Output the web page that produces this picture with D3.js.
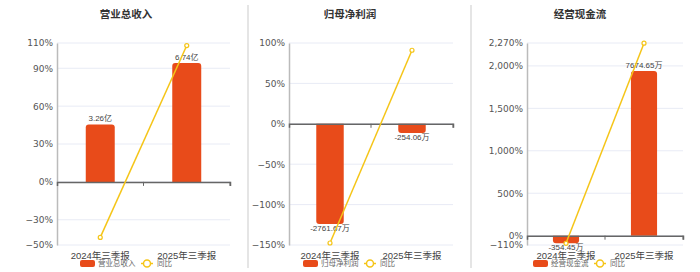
<!DOCTYPE html>
<html>
<head>
<meta charset="utf-8">
<script src="https://cdn.jsdelivr.net/npm/d3@7"></script>
<style>
  body { margin: 0; background: #fff; }
  svg { display: block; font-family: "Liberation Sans", "Noto Sans CJK SC", sans-serif; }
</style>
</head>
<body>
<svg id="chart" width="700" height="272"></svg>
<script>
// Shared categories
const categories = ["2024年三季报", "2025年三季报"];

// Panel titles / series names
const titles = ["营业总收入", "归母净利润", "经营现金流"];

// Bar values (raw) and their labels
const barValues = [
  [3.26, 6.74],
  [-2761.67, -254.06],
  [-354.45, 7674.65],
];
const barLabels = [
  ["3.26亿", "6.74亿"],
  ["-2761.67万", "-254.06万"],
  ["-354.45万", "7674.65万"],
];

// YoY percentages (line)
const yoyValues = [
  [-44, 108],
  [-147.5, 91],
  [-90, 2268],
];

// Left axis ticks (percent)
const tickValues = [
  [-50, -30, 0, 30, 60, 90, 110],
  [-150, -100, -50, 0, 50, 100],
  [-110, 0, 500, 1000, 1500, 2000, 2270],
];

// Layout per panel
const panels = [
  {left: 57, right: 230, titleX: 126, sepX: null, legX: 80},
  {left: 289, right: 453, titleX: 350, sepX: 248, legX: 303},
  {left: 527, right: 683, titleX: 580, sepX: 471, legX: 533},
];

const barColor = "#E84B1A";
const lineColor = "#F5C518";
const plotTop = 43, plotBottom = 245;

const svg = d3.select("#chart");

panels.forEach((p, i) => drawPanel(p, i));

function drawPanel(p, i) {
  const g = svg.append("g");
  const ticks = tickValues[i];
  const y = d3.scaleLinear()
    .domain([d3.min(ticks), d3.max(ticks)])
    .range([plotBottom, plotTop]);
  const x = d3.scaleBand()
    .domain(categories)
    .range([p.left, p.right])
    .paddingInner(0)
    .paddingOuter(0);
  const bw = x.bandwidth() * 0.335;

  // Bar scale: share zero with the percent axis
  const zeroY = y(0);
  const maxAbs = d3.max(barValues[i], d => Math.abs(d));
  const maxPix = i === 0 ? zeroY - 63 : (i === 1 ? 224 - zeroY : zeroY - 71);
  const yb = d3.scaleLinear().domain([0, maxAbs]).range([0, maxPix]);

  // Separator
  if (p.sepX !== null) {
    svg.append("line")
      .attr("x1", p.sepX).attr("x2", p.sepX)
      .attr("y1", 5).attr("y2", 268)
      .attr("stroke", "#dcdcdc").attr("stroke-width", 1.5);
  }

  // Title
  g.append("text")
    .attr("x", p.titleX).attr("y", 18)
    .attr("text-anchor", "middle")
    .attr("font-size", 10.5).attr("font-weight", "bold")
    .attr("fill", "#333")
    .attr("font-family", "'Noto Sans CJK SC', sans-serif")
    .text(titles[i]);

  // Grid
  g.append("g").selectAll("line").data(ticks).join("line")
    .attr("x1", p.left).attr("x2", p.right)
    .attr("y1", d => y(d)).attr("y2", d => y(d))
    .attr("stroke", "#e8ebf5").attr("stroke-width", 1);

  // Left axis
  const yAxis = d3.axisLeft(y)
    .tickValues(ticks)
    .tickSize(0)
    .tickPadding(4)
    .tickFormat(d => d3.format(",")(d) + "%");
  g.append("g")
    .attr("transform", `translate(${p.left},0)`)
    .call(yAxis)
    .call(s => s.select(".domain").attr("stroke", "#bbb").attr("stroke-width", 1.5))
    .call(s => s.selectAll("text").attr("font-size", 9).attr("fill", "#555")
      .attr("font-family", "'DejaVu Sans', sans-serif"));

  // Bars
  g.append("g").selectAll("path").data(barValues[i]).join("path")
    .attr("fill", barColor)
    .attr("d", (d, j) => {
      const cx = x(categories[j]) + x.bandwidth() / 2;
      const h = yb(Math.abs(d));
      return roundedBar(cx - bw / 2, zeroY, bw, h, d >= 0, 3);
    });

  // Bar labels
  g.append("g").selectAll("text").data(barValues[i]).join("text")
    .attr("x", (d, j) => x(categories[j]) + x.bandwidth() / 2)
    .attr("y", d => d >= 0 ? zeroY - yb(d) - 3.5 : zeroY + yb(-d) + 6.5)
    .attr("text-anchor", "middle")
    .attr("font-size", 8).attr("fill", "#444")
    .text((d, j) => barLabels[i][j]);

  // X axis at zero
  const xAxis = d3.axisBottom(x).tickSize(4).tickFormat("");
  g.append("g")
    .attr("transform", `translate(0,${zeroY})`)
    .call(xAxis)
    .call(s => s.select(".domain").attr("stroke", "#666").attr("stroke-width", 1.5))
    .call(s => s.selectAll(".tick line").attr("stroke", "#666")
      .attr("transform", `translate(${x.bandwidth() / 2},0)`));

  // Category labels at bottom
  g.append("g").selectAll("text").data(categories).join("text")
    .attr("x", d => x(d) + x.bandwidth() / 2)
    .attr("y", 258.5)
    .attr("text-anchor", "middle")
    .attr("font-size", 9.5).attr("fill", "#444")
    .text(d => d);

  // YoY line
  const line = d3.line()
    .x((d, j) => x(categories[j]) + x.bandwidth() / 2)
    .y(d => y(d));
  g.append("path")
    .datum(yoyValues[i])
    .attr("fill", "none")
    .attr("stroke", lineColor)
    .attr("stroke-width", 1.5)
    .attr("d", line);
  g.append("g").selectAll("circle").data(yoyValues[i]).join("circle")
    .attr("cx", (d, j) => x(categories[j]) + x.bandwidth() / 2)
    .attr("cy", d => y(d))
    .attr("r", 2)
    .attr("fill", "#fff")
    .attr("stroke", lineColor)
    .attr("stroke-width", 1.2);

  // Legend
  const leg = g.append("g").attr("transform", `translate(${p.legX},263.5)`);
  leg.append("rect")
    .attr("x", 0).attr("y", -3.5).attr("width", 15).attr("height", 7)
    .attr("rx", 2).attr("fill", barColor);
  leg.append("text")
    .attr("x", 18).attr("y", 2.8)
    .attr("font-size", 7.5).attr("fill", "#666")
    .text(titles[i]);
  leg.append("line")
    .attr("x1", 61).attr("x2", 73).attr("y1", 0).attr("y2", 0)
    .attr("stroke", lineColor).attr("stroke-width", 1.5);
  leg.append("circle")
    .attr("cx", 67).attr("cy", 0).attr("r", 3.5)
    .attr("fill", "#fff").attr("stroke", lineColor).attr("stroke-width", 1.5);
  leg.append("text")
    .attr("x", 77).attr("y", 2.8)
    .attr("font-size", 7.5).attr("fill", "#666")
    .text("同比");
}

// Bar path with rounded corners on the far end
function roundedBar(x0, y0, w, h, up, r) {
  r = Math.min(r, h, w / 2);
  if (up) {
    const yt = y0 - h;
    return `M${x0},${y0}V${yt + r}Q${x0},${yt} ${x0 + r},${yt}H${x0 + w - r}Q${x0 + w},${yt} ${x0 + w},${yt + r}V${y0}Z`;
  }
  const yb2 = y0 + h;
  return `M${x0},${y0}V${yb2 - r}Q${x0},${yb2} ${x0 + r},${yb2}H${x0 + w - r}Q${x0 + w},${yb2} ${x0 + w},${yb2 - r}V${y0}Z`;
}
</script>
</body>
</html>
